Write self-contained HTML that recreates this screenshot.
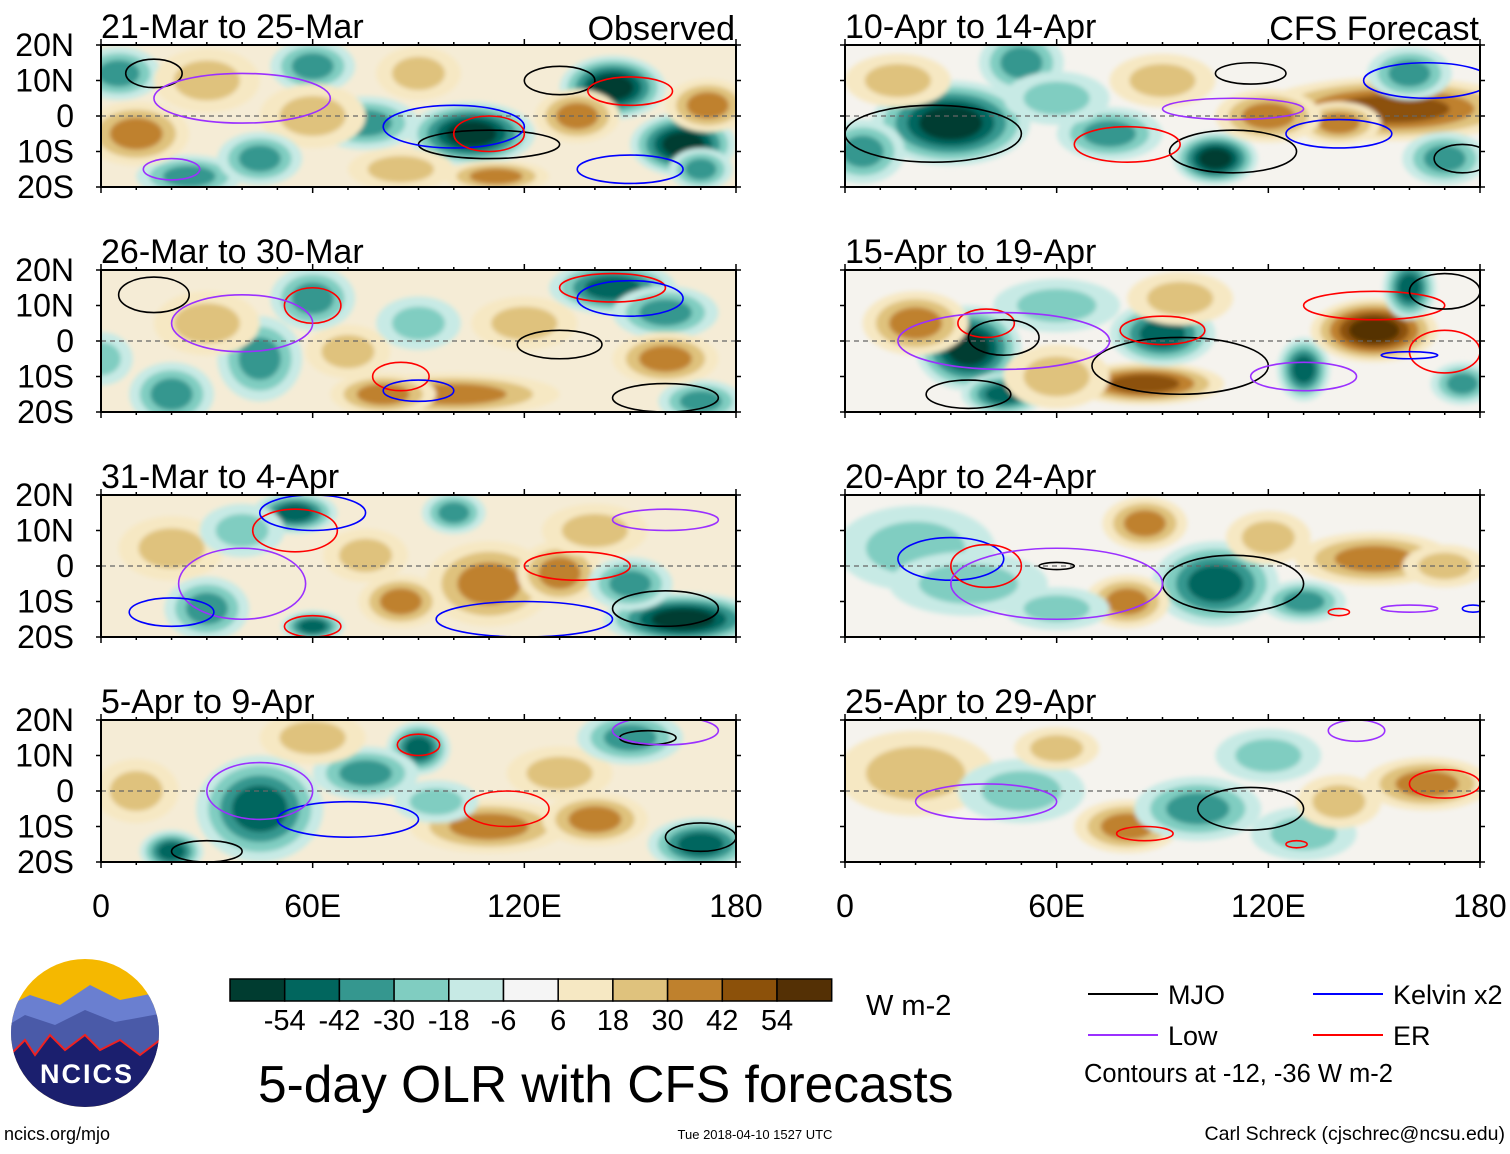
<!DOCTYPE html>
<html><head><meta charset="utf-8"><style>
body{margin:0;background:#fff;width:1510px;height:1149px;overflow:hidden;font-family:"Liberation Sans",sans-serif}
svg text{font-family:"Liberation Sans",sans-serif}
</style></head><body>
<svg id="chart" width="1510" height="1149" viewBox="0 0 1510 1149" xmlns="http://www.w3.org/2000/svg">
<defs><filter id="bl" x="-30%" y="-30%" width="160%" height="160%"><feGaussianBlur stdDeviation="2.5"/></filter></defs>
<g id="panels"></g>
<g id="bottom"></g>
</svg>
<script>
const NS="http://www.w3.org/2000/svg";
const svg=document.getElementById('chart');
const titles=["21-Mar to 25-Mar","26-Mar to 30-Mar","31-Mar to 4-Apr","5-Apr to 9-Apr","10-Apr to 14-Apr","15-Apr to 19-Apr","20-Apr to 24-Apr","25-Apr to 29-Apr"];
const latTicks=[20,10,0,-10,-20];
const latLabels=["20N","10N","0","10S","20S"];
const lonTicks=[0,60,120,180];
const lonLabels=["0","60E","120E","180"];
const cbLevels=[-54,-42,-30,-18,-6,6,18,30,42,54];
const cbColors=["#003c30","#01665e","#35978f","#80cdc1","#c7eae5","#f5f5f5","#f6e8c3","#dfc27d","#bf812d","#8c510a","#543005"];
// anomaly blobs per panel: [lon, lat, rxDeg, ryDeg, value W m-2]
const blobs=[
[[105,-5,12,6,-50],[165,-8,10,6,-50],[145,8,10,6,-50],[75,-2,10,5,-30],[5,12,8,5,-30],[25,-17,10,4,-35],[60,14,8,5,-25],[172,3,8,5,35],[10,-5,10,6,25],[60,0,10,6,20],[135,0,8,5,25],[30,10,10,6,20],[112,-17,10,3,25],[85,-15,10,4,20],[170,-15,6,4,-35],[45,-12,8,5,-25],[90,12,8,5,20]],
[[145,15,12,5,-40],[160,8,10,5,-30],[60,12,8,6,-30],[45,-5,8,8,-25],[20,-15,8,6,-25],[100,-15,20,4,30],[80,-15,10,4,25],[30,5,10,6,20],[120,5,10,5,20],[170,-17,8,4,-30],[0,-5,6,5,-20],[160,-5,10,5,25],[90,5,8,5,-20],[70,-3,8,5,20]],
[[110,-5,12,8,30],[85,-10,8,5,30],[55,15,8,4,-40],[100,15,6,4,-35],[165,-15,15,5,-50],[60,-17,6,3,-45],[30,-12,8,6,-30],[130,-2,8,6,25],[20,5,10,6,20],[140,10,10,5,20],[150,-5,8,5,-25],[75,3,8,5,20],[40,10,8,5,-20]],
[[45,-5,12,10,-45],[20,-17,6,4,-45],[90,12,6,5,-40],[75,5,10,5,-25],[170,-15,10,5,-45],[110,-10,15,5,30],[140,-8,10,5,35],[130,5,10,5,20],[10,0,8,6,20],[150,15,10,5,-25],[60,15,10,5,20],[95,-3,8,4,-20]],
[[30,-2,15,8,-50],[50,15,8,6,-35],[5,-10,8,6,-30],[105,-12,8,5,-50],[75,-5,10,5,-35],[155,2,25,6,45],[140,-2,8,4,30],[160,12,8,5,-35],[170,-12,8,5,-35],[120,0,10,5,25],[90,10,10,5,20],[15,10,10,5,20],[60,5,10,5,-20]],
[[35,-2,10,8,-50],[45,-15,8,4,-40],[85,-12,15,4,40],[60,-10,10,6,20],[90,2,10,6,-40],[130,-8,5,6,-45],[150,3,12,6,55],[160,15,5,6,-45],[20,5,10,6,25],[95,12,10,5,20],[175,-12,6,4,-30],[60,10,12,5,-20]],
[[105,-5,12,8,-45],[80,-10,8,5,35],[85,12,8,5,30],[150,2,15,5,35],[20,5,15,8,-20],[35,-5,15,6,-20],[130,-10,8,4,-25],[170,0,8,4,20],[60,-12,10,4,-15],[120,8,8,5,20]],
[[80,-10,10,5,30],[165,2,12,5,30],[100,-5,12,6,-25],[20,5,15,8,20],[130,-12,10,5,-20],[50,0,12,6,-20],[140,-3,8,5,20],[120,10,10,5,-15],[60,12,8,4,15]]
];
// contours: [lon, lat, rxDeg, ryDeg, type]
const conts=[
[[110,-8,20,4,"MJO"],[130,10,10,4,"MJO"],[15,12,8,4,"MJO"],[100,-3,20,6,"Kelvin"],[150,-15,15,4,"Kelvin"],[150,7,12,4,"ER"],[110,-5,10,5,"ER"],[40,5,25,7,"Low"],[20,-15,8,3,"Low"]],
[[145,15,15,4,"ER"],[60,10,8,5,"ER"],[130,-1,12,4,"MJO"],[150,12,15,5,"Kelvin"],[15,13,10,5,"MJO"],[85,-10,8,4,"ER"],[40,5,20,8,"Low"],[90,-14,10,3,"Kelvin"],[160,-16,15,4,"MJO"]],
[[55,10,12,6,"ER"],[60,15,15,5,"Kelvin"],[135,0,15,4,"ER"],[160,-12,15,5,"MJO"],[40,-5,18,10,"Low"],[120,-15,25,5,"Blue"],[20,-13,12,4,"Kelvin"],[160,13,15,3,"Low"],[60,-17,8,3,"ER"]],
[[90,13,6,3,"ER"],[70,-8,20,5,"Kelvin"],[45,0,15,8,"Low"],[30,-17,10,3,"MJO"],[170,-13,10,4,"MJO"],[115,-5,12,5,"ER"],[155,15,8,2,"MJO"],[160,17,15,4,"Low"]],
[[25,-5,25,8,"MJO"],[110,-10,18,6,"MJO"],[165,10,18,5,"Kelvin"],[140,-5,15,4,"Kelvin"],[80,-8,15,5,"ER"],[110,2,20,3,"Low"],[175,-12,8,4,"MJO"],[115,12,10,3,"MJO"]],
[[40,5,8,4,"ER"],[45,1,10,5,"MJO"],[35,-15,12,4,"MJO"],[95,-7,25,8,"MJO"],[90,3,12,4,"ER"],[150,10,20,4,"ER"],[170,14,10,5,"MJO"],[130,-10,15,4,"Low"],[170,-3,10,6,"ER"],[45,0,30,8,"Low"],[160,-4,8,1,"Kelvin"]],
[[110,-5,20,8,"MJO"],[30,2,15,6,"Kelvin"],[40,0,10,6,"ER"],[60,0,5,1,"MJO"],[60,-5,30,10,"Low"],[140,-13,3,1,"ER"],[160,-12,8,1,"Low"],[178,-12,3,1,"Kelvin"]],
[[115,-5,15,6,"MJO"],[85,-12,8,2,"ER"],[40,-3,20,5,"Low"],[170,2,10,4,"ER"],[145,17,8,3,"Low"],[128,-15,3,1,"ER"]]
];
const lineCol={MJO:"#000",Kelvin:"#0000ff",Blue:"#0000ff",ER:"#ff0000",Low:"#9b30ff"};
const SCALE=1.5;
function colorFor(v){let i=0;while(i<cbLevels.length&&v>cbLevels[i])i++;return cbColors[i];}
function el(tag,attrs,parent){const e=document.createElementNS(NS,tag);for(const k in attrs)e.setAttribute(k,attrs[k]);parent.appendChild(e);return e;}
const gP=document.getElementById('panels');
const W=635,H=142;
const pos=[[101,45],[101,270],[101,495],[101,720],[845,45],[845,270],[845,495],[845,720]];
pos.forEach((p,i)=>{
  const [x0,y0]=p;
  const xs=lon=>x0+lon/180*W, ys=lat=>y0+(20-lat)/40*H;
  const g=el('g',{},gP);
  
  
  const cid='c'+i;
  const cp=el('clipPath',{id:cid},g);el('rect',{x:x0,y:y0,width:W,height:H},cp);
  el('rect',{x:x0,y:y0,width:W,height:H,fill:i<4?'#f5ecd6':'#f5f3ee'},g);
  const fg=el('g',{'clip-path':'url(#'+cid+')'},g);
  const bg=el('g',{filter:'url(#bl)'},fg);
  blobs[i].forEach(b=>{
    const steps=Math.ceil(Math.abs(b[4])/12);
    for(let s=0;s<steps;s++){
      const f=1-0.75*s/steps;const v=Math.sign(b[4])*(6+12*s+1);
      const e=el('ellipse',{cx:xs(b[0]),cy:ys(b[1]),rx:SCALE*b[2]/180*W*f,ry:SCALE*b[3]/40*H*f,fill:colorFor(v)},bg);
      
      
    }
  });
  el('line',{x1:x0,x2:x0+W,y1:ys(0),y2:ys(0),stroke:'#666','stroke-dasharray':'5,4','stroke-width':1.3},fg);
  conts[i].forEach(c=>{
    const e=el('ellipse',{cx:xs(c[0]),cy:ys(c[1]),rx:c[2]/180*W,ry:c[3]/40*H,fill:'none',stroke:lineCol[c[4]],'stroke-width':1.6},fg);
    
    
  });
  el('rect',{x:x0,y:y0,width:W,height:H,fill:'none',stroke:'#000','stroke-width':2},g);
  for(let l=0;l<=180;l+=10){const w=l%60===0?6:3;el('line',{x1:xs(l),x2:xs(l),y1:y0-w,y2:y0,stroke:'#000','stroke-width':1.5},g);el('line',{x1:xs(l),x2:xs(l),y1:y0+H,y2:y0+H+w,stroke:'#000','stroke-width':1.5},g);}
  latTicks.forEach((la,k)=>{
    if(i<4){const t=el('text',{x:x0-28,y:ys(la)+11,'font-size':32,'text-anchor':'end'},g);t.setAttribute('x',74);t.textContent=latLabels[k];
      }
    el('line',{x1:x0-5,x2:x0,y1:ys(la),y2:ys(la),stroke:'#000','stroke-width':1.5},g);
    el('line',{x1:x0+W,x2:x0+W+5,y1:ys(la),y2:ys(la),stroke:'#000','stroke-width':1.5},g);
  });
  const t=el('text',{x:x0,y:y0-7,'font-size':34},g);t.textContent=titles[i];
  
  if(i===0||i===4){const t2=el('text',{x:x0+W-1,y:y0-5,'font-size':34,'text-anchor':'end'},g);t2.textContent=i===0?'Observed':'CFS Forecast';
    }
  if(i===3||i===7){lonTicks.forEach((lo,k)=>{const tt=el('text',{x:xs(lo),y:917,'font-size':32,'text-anchor':'middle'},g);tt.textContent=lonLabels[k];
    });}
});
const gb=document.getElementById('bottom');
const cbx=230,cbw=54.7;
cbColors.forEach((c,k)=>{const r=el('rect',{x:cbx+k*cbw,y:979,width:cbw,height:22,fill:c,stroke:'#000','stroke-width':1.5},gb);
  });
cbLevels.forEach((v,k)=>{const t=el('text',{x:cbx+(k+1)*cbw,y:1030,'font-size':29,'text-anchor':'middle'},gb);t.textContent=v;
  });
function txt(s,x,y,fs,name,anchor){const t=el('text',{x:x,y:y,'font-size':fs,'text-anchor':anchor||'start'},gb);t.textContent=s;return t;}
txt('W m-2',866,1015,29,'colorbar-units');
txt('5-day OLR with CFS forecasts',258,1102,51.5,'main-title');
const leg=[["MJO",1088,994,"#000"],["Kelvin x2",1313,994,"#0000ff"],["Low",1088,1035,"#9b30ff"],["ER",1313,1035,"#ff0000"]];
leg.forEach(l=>{const ln=el('line',{x1:l[1],x2:l[1]+70,y1:l[2],y2:l[2],stroke:l[3],'stroke-width':2},gb);
  txt(l[0],l[1]+80,l[2]+10,27,'legend-entry');});
txt('Contours at -12, -36 W m-2',1084,1082,25.5,'contour-note');
txt('ncics.org/mjo',4,1140,18,'url-text');
txt('Tue 2018-04-10 1527 UTC',755,1139,13,'timestamp','middle');
txt('Carl Schreck (cjschrec@ncsu.edu)',1505,1140,19.5,'author','end');
const lg=el('g',{},gb);
const lcp=el('clipPath',{id:'lc'},lg);el('circle',{cx:85,cy:1033,r:74},lcp);
const li=el('g',{'clip-path':'url(#lc)'},lg);
el('rect',{x:0,y:955,width:170,height:160,fill:'#f5b800'},li);
el('path',{d:'M0 1010 L30 995 L60 1005 L90 985 L120 1000 L170 990 L170 1040 L0 1040Z',fill:'#6a7fd0'},li);
el('path',{d:'M0 1030 L25 1015 L55 1025 L85 1010 L115 1022 L170 1012 L170 1060 L0 1060Z',fill:'#4a5aa8'},li);
el('path',{d:'M10 1055 L25 1040 L35 1055 L50 1035 L65 1050 L85 1035 L100 1050 L120 1040 L140 1055 L160 1040 L170 1060 L170 1115 L0 1115 L0 1060Z',fill:'#1b1f6e',stroke:'#e22',"stroke-width":2},li);
const lt=el('text',{x:87,y:1083,'font-size':27,'font-weight':'bold',fill:'#fff','text-anchor':'middle','letter-spacing':'2'},lg);lt.textContent='NCICS';
</script>
</body></html>
